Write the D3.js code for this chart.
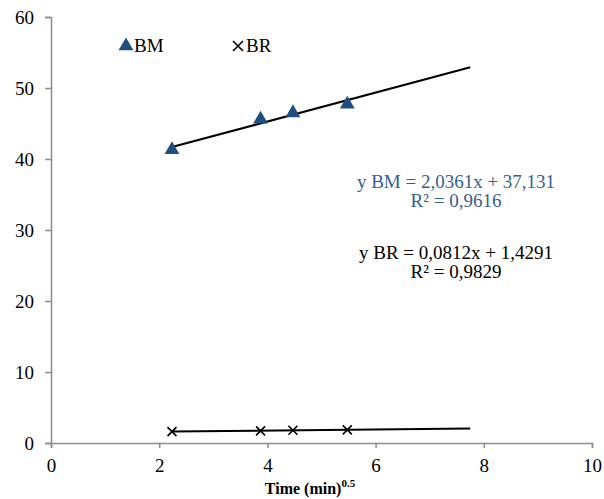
<!DOCTYPE html>
<html>
<head>
<meta charset="utf-8">
<script src="https://cdn.jsdelivr.net/npm/d3@7"></script>
<style>
  body { margin: 0; background: #fff; }
  svg text { font-family: "Liberation Serif", "DejaVu Serif", serif !important; }
</style>
</head>
<body>
<div id="chart"></div>
<script>
/* DATA */
const timeX = [2.236, 3.873, 4.472, 5.477]; // sqrt of 5, 15, 20, 30 min
const bmValues = [41.3, 45.6, 46.5, 47.7];
const brValues = [1.6, 1.7, 1.8, 1.85];
const xTicks = [0, 2, 4, 6, 8, 10];
const yTicks = [0, 10, 20, 30, 40, 50, 60];
const bmFit = { slope: 2.0361, icpt: 37.131, label: "y BM = 2,0361x + 37,131", r2: "R² = 0,9616" };
const brFit = { slope: 0.0812, icpt: 1.4291, label: "y BR = 0,0812x + 1,4291", r2: "R² = 0,9829" };
const trendEnd = 7.75;

const width = 604, height = 499;
const margin = { top: 17, right: 12, bottom: 56, left: 51 };
const bmColor = "#1f4e80", bmText = "#35608f", axisColor = "#8c8c8c";

const svg = d3.select("#chart").append("svg")
  .attr("width", width).attr("height", height);

const x = d3.scaleLinear().domain([0, 10]).range([margin.left, width - margin.right]);
const y = d3.scaleLinear().domain([0, 60]).range([height - margin.bottom, margin.top]);

// axes
const xAxis = svg.append("g")
  .attr("transform", `translate(0,${y(0)})`)
  .call(d3.axisBottom(x).tickValues(xTicks).tickSizeOuter(0).tickSize(5).tickPadding(8));
const yAxis = svg.append("g")
  .attr("transform", `translate(${x(0)},0)`)
  .call(d3.axisLeft(y).tickValues(yTicks).tickSizeOuter(0).tickSize(6).tickPadding(11));

[xAxis, yAxis].forEach(g => {
  g.attr("font-family", null).attr("font-size", null);
  g.select(".domain").attr("stroke", axisColor).attr("stroke-width", 1.5);
  g.selectAll(".tick line").attr("stroke", axisColor).attr("stroke-width", 1.5);
  g.selectAll(".tick text").attr("fill", "#000").style("font-size", "19px");
});
xAxis.selectAll(".tick text").attr("dy", "0.85em");

// trendlines
const fits = [bmFit, brFit];
svg.selectAll("line.trend")
  .data(fits)
  .join("line")
  .attr("class", "trend")
  .attr("x1", x(timeX[0]))
  .attr("y1", d => y(d.slope * timeX[0] + d.icpt))
  .attr("x2", x(trendEnd))
  .attr("y2", d => y(d.slope * trendEnd + d.icpt))
  .attr("stroke", "#000")
  .attr("stroke-width", 2);

// BM triangles
const tri = d3.symbol().type(d3.symbolTriangle).size(95);
svg.selectAll("path.bm")
  .data(timeX.map((t, i) => ({ t, v: bmValues[i] })))
  .join("path")
  .attr("class", "bm")
  .attr("d", tri)
  .attr("transform", d => `translate(${x(d.t)},${y(d.v)})`)
  .attr("fill", bmColor);

// BR crosses
const cross = (g, s) => g.append("path")
  .attr("d", `M${-s},${-s}L${s},${s}M${-s},${s}L${s},${-s}`)
  .attr("stroke", "#000").attr("stroke-width", 1.6).attr("fill", "none");
svg.selectAll("g.br")
  .data(timeX.map((t, i) => ({ t, v: brValues[i] })))
  .join("g")
  .attr("class", "br")
  .attr("transform", d => `translate(${x(d.t)},${y(d.v)})`)
  .each(function() { cross(d3.select(this), 4.5); });

// legend
const leg = svg.append("g").style("font-size", "19px");
leg.append("path").attr("d", tri).attr("transform", "translate(126,46)").attr("fill", bmColor);
leg.append("text").attr("x", 134).attr("y", 52).text("BM");
cross(leg.append("g").attr("transform", "translate(238,46)"), 5);
leg.append("text").attr("x", 246).attr("y", 52).text("BR");

// equations
const eq = svg.append("g").attr("text-anchor", "middle").style("font-size", "19px");
eq.append("text").attr("x", 456).attr("y", 188).attr("fill", bmText).text(bmFit.label);
eq.append("text").attr("x", 456).attr("y", 207).attr("fill", bmText).text(bmFit.r2);
eq.append("text").attr("x", 456).attr("y", 259).attr("fill", "#000").text(brFit.label);
eq.append("text").attr("x", 456).attr("y", 278).attr("fill", "#000").text(brFit.r2);

// x axis title
const title = svg.append("text")
  .attr("x", 310).attr("y", 494)
  .attr("text-anchor", "middle")
  .style("font-size", "16px").style("font-weight", "bold");
title.append("tspan").text("Time (min)");
title.append("tspan").attr("dy", -7).style("font-size", "11px").text("0.5");
</script>
</body>
</html>
